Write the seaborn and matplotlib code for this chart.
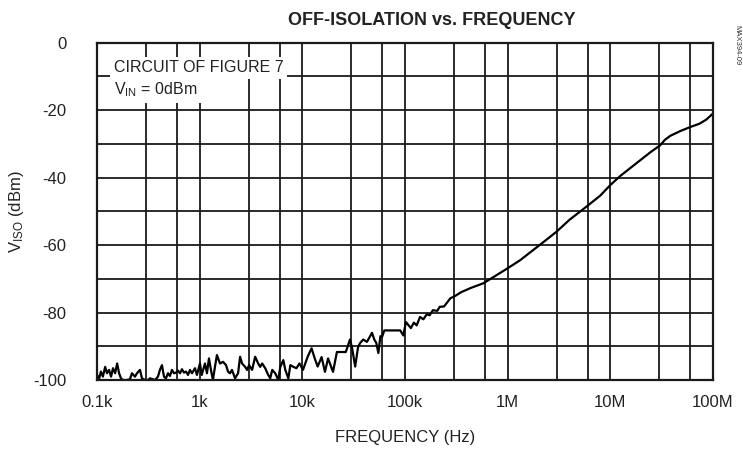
"""Off-isolation vs. frequency, redrawn from the datasheet plot."""

import numpy as np
import pandas as pd
import matplotlib
matplotlib.use("Agg")
import matplotlib.pyplot as plt
import seaborn as sns

# Frequency (Hz) and off-isolation (dBm)
freq = [100, 105, 109, 114, 120, 125, 131, 137, 143, 150, 157, 164, 171, 179,
        192, 209, 219, 234, 245, 262, 274, 293, 314, 328, 367, 392, 410, 429,
        449, 469, 491, 513, 537, 562, 588, 615, 643, 672, 703, 736, 770, 804,
        842, 900, 940, 1006,
        1046, 1126, 1177, 1231, 1287, 1346, 1408, 1472, 1576, 1687, 1806, 1888,
        1974, 2064, 2210, 2366, 2474, 2587, 2769, 2895, 3027, 3241, 3469, 3714,
        3883, 4060, 4347, 4653, 4865, 5087, 5446, 5830, 6096, 6526, 6823, 7305,
        7638, 8177, 8754, 9372,
        10140, 11300, 12300, 13200, 14100, 15400, 16600, 17800, 19900, 21700,
        26500, 29100, 30500, 32700, 34900, 36600, 39200, 42600, 44800, 47700,
        50200, 52500, 55000, 57600, 59800, 62900, 67000, 90000, 96300,
        102e3, 114e3, 122e3, 130e3, 140e3, 151e3, 163e3, 174e3, 187e3, 206e3,
        218e3, 240e3, 257e3, 276e3, 311e3, 350e3, 438e3, 582e3, 744e3, 984e3,
        1.32e6, 1.77e6, 2.32e6, 3.0e6, 4.0e6, 5.8e6, 8.0e6, 10e6, 12.5e6,
        15.6e6, 19.6e6, 24.5e6, 30.6e6, 34e6, 38.4e6, 48e6, 60e6, 74e6, 86e6,
        100e6]
v_iso = [-98.5, -99.5, -97.5, -99.0, -96.1, -98.0, -97.0, -99.0, -96.5, -98.0,
         -95.1, -98.0, -99.5, -100, -100, -99.8, -98.0, -99.0, -98.0, -97.0,
         -99.5, -100, -100, -99.5, -100, -99.0, -97.0, -95.6, -99.0, -99.5,
         -98.0, -98.8, -97.0, -98.0, -97.8, -97.2, -98.0, -96.8, -97.8, -97.5,
         -98.5, -97.0, -98.0, -96.5, -98.5, -95.1,
         -98.5, -95.1, -98.0, -93.6, -97.0, -100, -96.1, -92.6, -95.1, -94.6,
         -95.6, -97.5, -98.0, -97.0, -99.5, -98.0, -93.1, -95.1, -96.1, -97.0,
         -95.6, -97.0, -93.1, -95.1, -96.1, -95.1, -96.5, -98.5, -99.5, -97.0,
         -98.0, -100, -96.1, -94.1, -97.0, -99.5, -95.6, -96.1, -96.5, -95.1,
         -97.0, -93.0, -90.6, -93.6, -96.0, -93.2, -97.6, -93.6, -97.6, -91.7,
         -91.7, -88.0, -90.5, -96.0, -90.2, -89.0, -88.0, -88.7, -87.5, -86.0,
         -88.0, -89.0, -92.0, -87.0, -87.2, -85.3, -85.3, -85.3, -86.8,
         -82.8, -84.6, -83.0, -83.8, -81.3, -82.0, -80.5, -80.8, -79.3, -79.5,
         -78.3, -78.2, -77.0, -75.8, -75.0, -74.0, -72.7, -71.3, -69.3, -67.0,
         -64.5, -61.5, -58.7, -56.0, -52.5, -48.7, -45.3, -42.2, -39.5,
         -37.2, -34.8, -32.5, -30.4, -28.8, -27.6, -26.2, -25.0, -24.0, -22.8,
         -21.0]

xtick_vals = [1e2, 1e3, 1e4, 1e5, 1e6, 1e7, 1e8]
xtick_labels = ["0.1k", "1k", "10k", "100k", "1M", "10M", "100M"]
xgrid_minor = [m * 10.0 ** e for e in range(2, 8) for m in (3, 6)]
ytick_vals = [0, -20, -40, -60, -80, -100]
ygrid_minor = [-10, -30, -50, -70, -90]

df = pd.DataFrame({"freq": freq, "v_iso": v_iso})

sns.set_style("white")
plt.rcParams["font.family"] = ["Liberation Sans Narrow", "Liberation Sans", "DejaVu Sans"]
plt.rcParams["mathtext.default"] = "regular"

fig = plt.figure(figsize=(7.43, 4.51), dpi=100)
ax = fig.add_axes([0.1306, 0.1574, 0.8290, 0.7479])

sns.lineplot(data=df, x="freq", y="v_iso", ax=ax, color="black", lw=1.6,
             estimator=None, sort=False)

ax.set_xscale("log")
ax.set_xlim(1e2, 1e8)
ax.set_ylim(-100, 0)
ax.set_xticks(xtick_vals)
ax.set_xticklabels(xtick_labels)
ax.set_xticks(xgrid_minor, minor=True)
ax.set_xticklabels([], minor=True)
ax.set_yticks(ytick_vals)
ax.set_yticklabels([str(v) for v in ytick_vals])
ax.set_yticks(ygrid_minor, minor=True)

ax.grid(True, which="both", color="#1a1a1a", lw=1.3)
ax.set_axisbelow(True)
ax.tick_params(axis="both", which="both", length=0, labelsize=12, colors="#222222")
ax.tick_params(axis="y", pad=22)
ax.tick_params(axis="x", pad=11)
for s in ax.spines.values():
    s.set_color("#1a1a1a")
    s.set_linewidth(1.6)

ax.set_xlabel("FREQUENCY (Hz)", fontsize=12, color="#222222", labelpad=14)
ax.set_ylabel("V$_{ISO}$ (dBm)", fontsize=12, color="#222222", labelpad=5)

# notes with white boxes over the grid
ax.text(0.027, 0.926, "CIRCUIT OF FIGURE 7", transform=ax.transAxes,
        fontsize=11.5, va="center", ha="left", color="#222222",
        bbox=dict(facecolor="white", edgecolor="none", pad=2.5))
ax.text(0.027, 0.86, "V$_{IN}$ = 0dBm", transform=ax.transAxes,
        fontsize=11.5, va="center", ha="left", color="#222222",
        bbox=dict(facecolor="white", edgecolor="none", pad=2.5))

fig.text(0.581, 0.955, "OFF-ISOLATION vs. FREQUENCY", ha="center", va="center",
         fontsize=13, fontweight="bold", color="#222222")
fig.text(0.992, 0.9, "MAX394-09", rotation=270, ha="center", va="center",
         fontsize=5.5, color="#333333")

fig.savefig("out.png", dpi=100, facecolor="white")
